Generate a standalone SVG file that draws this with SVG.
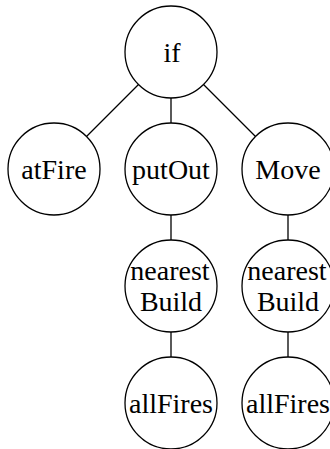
<svg xmlns="http://www.w3.org/2000/svg" width="330" height="449" viewBox="0 0 330 449">
<style>
.n circle{fill:#fff;stroke:#000;stroke-width:1.3}
.n text{font-family:"Liberation Serif","DejaVu Serif",serif;font-size:28px;fill:#000;text-anchor:middle}
#edges line{stroke:#000;stroke-width:1.3}
</style>
<rect width="330" height="449" fill="#fff"/>
<g id="edges">
<line x1="138.5" y1="84.5" x2="86.5" y2="136.5"/>
<line x1="171" y1="98" x2="171" y2="123"/>
<line x1="203.5" y1="84.5" x2="255.5" y2="136.5"/>
<line x1="171" y1="215" x2="171" y2="240"/>
<line x1="288" y1="215" x2="288" y2="240"/>
<line x1="171" y1="332" x2="171" y2="357"/>
<line x1="288" y1="332" x2="288" y2="357"/>
</g>
<g id="if" class="n"><circle cx="171" cy="52" r="46"/><text x="172" y="62">if</text></g>
<g id="atFire" class="n"><circle cx="54" cy="169" r="46"/><text x="54" y="179">atFire</text></g>
<g id="putOut" class="n"><circle cx="171" cy="169" r="46"/><text x="171" y="179">putOut</text></g>
<g id="Move" class="n"><circle cx="288" cy="169" r="46"/><text x="288" y="179">Move</text></g>
<g id="nearestBuild1" class="n"><circle cx="171" cy="286" r="46"/><text x="170" y="280">nearest</text><text x="171" y="311">Build</text></g>
<g id="nearestBuild2" class="n"><circle cx="288" cy="286" r="46"/><text x="287" y="280">nearest</text><text x="288" y="311">Build</text></g>
<g id="allFires1" class="n"><circle cx="171" cy="403" r="46"/><text x="171" y="413">allFires</text></g>
<g id="allFires2" class="n"><circle cx="288" cy="403" r="46"/><text x="288" y="413">allFires</text></g>
</svg>
